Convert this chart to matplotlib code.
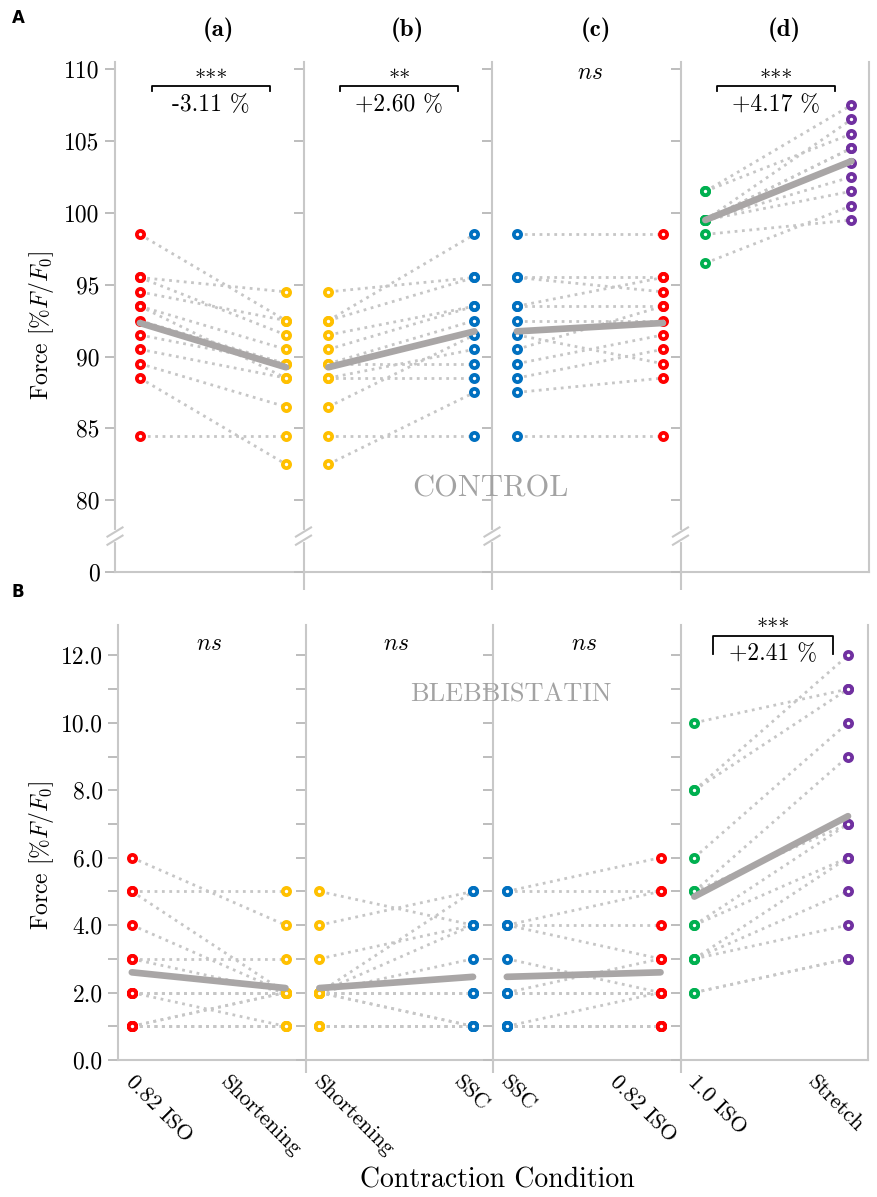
import numpy as np
import matplotlib
matplotlib.use('Agg')
import matplotlib.pyplot as plt
from matplotlib.transforms import ScaledTranslation

plt.rcParams['font.family'] = 'cmr10'
plt.rcParams['mathtext.fontset'] = 'cm'
plt.rcParams['axes.unicode_minus'] = False
plt.rcParams['axes.formatter.use_mathtext'] = True

# --- dane: CONTROL (A), te same osoby w (a)-(c), osobne w (d)
ctrl_iso082 = [98.5, 95.5, 95.5, 94.5, 93.5, 93.5, 92.5, 91.5, 90.5, 89.5, 88.5, 84.5]
ctrl_short = [92.5, 94.5, 91.5, 92.5, 90.5, 88.5, 89.5, 89.5, 88.5, 86.5, 82.5, 84.5]
ctrl_ssc = [98.5, 95.5, 93.5, 95.5, 93.5, 90.5, 92.5, 89.5, 88.5, 91.5, 87.5, 84.5]
ctrl_iso10 = [101.5, 101.5, 99.5, 99.5, 99.5, 99.5, 99.5, 99.5, 98.5, 96.5]
ctrl_stretch = [107.5, 105.5, 106.5, 104.5, 103.5, 102.5, 101.5, 104.5, 99.5, 100.5]

# --- dane: BLEBBISTATIN (B)
blebb_iso082 = [6, 5, 5, 4, 3, 3, 2, 2, 1, 1, 2, 1, 1, 2, 1]
blebb_short = [4, 5, 2, 2, 3, 2, 2, 1, 2, 1, 2, 1, 1, 2, 2]
blebb_ssc = [5, 4, 5, 4, 4, 2, 3, 1, 1, 1, 2, 1, 1, 2, 1]
blebb_iso10 = [10, 8, 8, 6, 5, 5, 4, 4, 3, 3, 3, 2, 2]
blebb_stretch = [11, 12, 11, 10, 9, 7, 7, 6, 6, 5, 4, 3, 3]

col_titles = ['(a)', '(b)', '(c)', '(d)']
pair_labels = [('0.82 ISO', 'Shortening'), ('Shortening', 'SSC'),
               ('SSC', '0.82 ISO'), ('1.0 ISO', 'Stretch')]
ctrl_stars = ['***', '**', None, '***']
ctrl_pct = ['-3.11 %', '+2.60 %', None, '+4.17 %']
blebb_stars = [None, None, None, '***']
blebb_pct = [None, None, None, '+2.41 %']

a_ticks = [0, 80, 85, 90, 95, 100, 105, 110]
b_ticks = list(range(13))

c_red, c_yel, c_blue = '#ff0000', '#ffc000', '#0070c0'
c_green, c_purp = '#00b050', '#7030a0'
pair_colors = [(c_red, c_yel), (c_yel, c_blue), (c_blue, c_red), (c_green, c_purp)]

ctrl_pairs = [(ctrl_iso082, ctrl_short), (ctrl_short, ctrl_ssc),
              (ctrl_ssc, ctrl_iso082), (ctrl_iso10, ctrl_stretch)]
blebb_pairs = [(blebb_iso082, blebb_short), (blebb_short, blebb_ssc),
               (blebb_ssc, blebb_iso082), (blebb_iso10, blebb_stretch)]

spine_c = '#c8c8c8'
tick_c = '#bdbdbd'


# oś łamana: 0 blisko 80
def fwd(v):
    v = np.asarray(v, dtype=float)
    return np.where(v >= 80, v, 75 + v / 16.0)


def inv(t):
    t = np.asarray(t, dtype=float)
    return np.where(t >= 80, t, (t - 75) * 16.0)


def draw_pairs(ax, left, right, cols):
    left = np.asarray(left, float)
    right = np.asarray(right, float)
    for l, r in zip(left, right):
        ax.plot([0, 1], [l, r], ls=':', color='#c6c6c6', lw=2.0, zorder=2)
    ax.plot(np.zeros(len(left)), left, 'o', mfc='white', mec=cols[0], mew=2.7, ms=5.2, zorder=3)
    ax.plot(np.ones(len(right)), right, 'o', mfc='white', mec=cols[1], mew=2.7, ms=5.2, zorder=3)
    ax.plot([0, 1], [left.mean(), right.mean()], color='#a9a6a6', lw=4.8,
            solid_capstyle='round', zorder=4)


def style_axes(ax, i, ext):
    ax.spines['top'].set_visible(False)
    ax.spines['right'].set_visible(i == 3)
    for s in ['left', 'bottom', 'right']:
        ax.spines[s].set_color(spine_c)
        ax.spines[s].set_linewidth(1.5)
    ax.tick_params(axis='y', color=tick_c, length=7, width=1.4, labelsize=17,
                   labelleft=(i == 0), pad=4)
    ax.tick_params(axis='y', which='minor', length=0)
    if i > 0:
        ax.plot([0, 0], [0, -ext], transform=ax.transAxes, color=spine_c,
                lw=1.5, clip_on=False, solid_capstyle='butt')


fig = plt.figure(figsize=(8.77, 11.97), dpi=100)
W, H = 877.0, 1197.0

# ---------------- A: CONTROL
a_left, a_colw, a_bot, a_top = 115, 188.5, 572, 62
axes_a = []
for i in range(4):
    ax = fig.add_axes([(a_left + i * a_colw) / W, 1 - a_bot / H, a_colw / W, (a_bot - a_top) / H])
    ax.set_yscale('function', functions=(fwd, inv))
    draw_pairs(ax, ctrl_pairs[i][0], ctrl_pairs[i][1], pair_colors[i])
    ax.set_xlim(-0.17, 1.12)
    ax.set_ylim(0, 110.5)
    ax.set_yticks(a_ticks)
    ax.set_yticklabels([str(t) for t in a_ticks])
    ax.set_xticks([])
    style_axes(ax, i, 0.035)

    # przerwa osi "//"
    yb = (77.5 - 75) / 35.5
    ax.plot([0, 0], [yb - 0.008, yb + 0.008], transform=ax.transAxes, color='white',
            lw=3, clip_on=False, zorder=5)
    for dy in (-0.008, 0.008):
        ax.plot([-0.04, 0.04], [yb + dy - 0.009, yb + dy + 0.009], transform=ax.transAxes,
                color=spine_c, lw=1.5, clip_on=False, zorder=6)

    ax.text(0.54, 1.051, col_titles[i], transform=ax.get_xaxis_transform(),
            ha='center', va='baseline', fontsize=18, family='cmb10')

    if ctrl_stars[i] is None:
        ax.text(0.5, 109.3, '$ns$', ha='center', va='baseline', fontsize=17)
    else:
        yb_ = 108.8
        ax.plot([0.08, 0.08, 0.89, 0.89], [yb_ - 0.3, yb_, yb_, yb_ - 0.3], color='black',
                lw=1.3, clip_on=False)
        ax.text(0.485, yb_ + 0.1, ctrl_stars[i], ha='center', va='baseline', fontsize=16)
        ax.text(0.485, 107.1, ctrl_pct[i], ha='center', va='baseline', fontsize=17)
    axes_a.append(ax)

axes_a[0].set_ylabel(r'Force [%$F/F_0$]', fontsize=17)
axes_a[0].yaxis.set_label_coords(-0.315, 0.484)

# ---------------- B: BLEBBISTATIN
b_left, b_colw, b_bot, b_top = 118, 187.5, 1060, 625
axes_b = []
for i in range(4):
    ax = fig.add_axes([(b_left + i * b_colw) / W, 1 - b_bot / H, b_colw / W, (b_bot - b_top) / H])
    draw_pairs(ax, blebb_pairs[i][0], blebb_pairs[i][1], pair_colors[i])
    ax.set_xlim(-0.09, 1.13)
    ax.set_ylim(0, 12.9)
    ax.set_yticks(b_ticks)
    ax.set_yticklabels([f'{t:.1f}' if t % 2 == 0 else '' for t in b_ticks])
    ax.set_xticks([0, 1])
    ax.tick_params(axis='x', length=0, pad=9)
    labs = ax.set_xticklabels(list(pair_labels[i]), rotation=-45, fontsize=16)
    labs[0].set_ha('left')
    labs[1].set_ha('right')
    # lekkie rozsunięcie etykiet jak w oryginale
    labs[0].set_transform(labs[0].get_transform() + ScaledTranslation(-7 / 72, 0, fig.dpi_scale_trans))
    labs[1].set_transform(labs[1].get_transform() + ScaledTranslation(14 / 72, 0, fig.dpi_scale_trans))
    style_axes(ax, i, 0.03)

    if blebb_stars[i] is None:
        ax.text(0.5, 12.17, '$ns$', ha='center', va='baseline', fontsize=17)
    else:
        yb_ = 12.58
        ax.plot([0.12, 0.12, 0.9, 0.9], [12.05, yb_, yb_, 12.05], color='black',
                lw=1.3, clip_on=False)
        ax.text(0.51, yb_ + 0.05, blebb_stars[i], ha='center', va='baseline', fontsize=16)
        ax.text(0.51, 11.87, blebb_pct[i], ha='center', va='baseline', fontsize=17)
    axes_b.append(ax)

axes_b[0].set_ylabel(r'Force [%$F/F_0$]', fontsize=17)
axes_b[0].yaxis.set_label_coords(-0.33, 0.47)

fig.text(490 / W, 1 - 489 / H, 'CONTROL', color='#a3a3a3', fontsize=22, ha='center', va='center')
fig.text(511 / W, 1 - 695 / H, 'BLEBBISTATIN', color='#a3a3a3', fontsize=19, ha='center', va='center')
fig.text(497 / W, 1 - 1180 / H, 'Contraction Condition', fontsize=20, ha='center', va='center')

fig.text(18 / W, 1 - 18 / H, 'A', fontsize=12, fontweight='bold', family='DejaVu Sans',
         ha='center', va='center')
fig.text(18 / W, 1 - 592 / H, 'B', fontsize=12, fontweight='bold', family='DejaVu Sans',
         ha='center', va='center')

fig.savefig('out.png', dpi=100)
